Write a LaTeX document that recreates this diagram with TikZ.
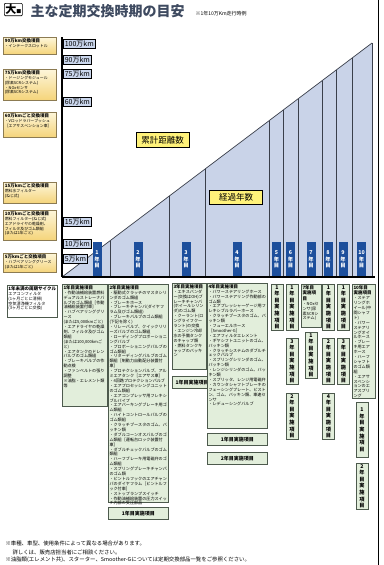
\documentclass[tikz,border=0pt]{standalone}
\usepackage{fontspec}
\setmainfont{Noto Sans CJK JP}
\XeTeXlinebreaklocale "ja"
\XeTeXlinebreakskip=0pt plus 1pt
\usetikzlibrary{positioning}
\definecolor{barblue}{HTML}{1D4F9C}
\definecolor{trifill}{HTML}{C9D3E8}
\definecolor{kmblue}{HTML}{CAD6EC}
\definecolor{labelyellow}{HTML}{FFF27A}
\definecolor{notetop}{HTML}{FDF6DA}
\definecolor{notebot}{HTML}{F5D47A}
\definecolor{noteline}{HTML}{8C7B52}
\definecolor{boxgreen}{HTML}{E2EEDB}
\definecolor{boxline}{HTML}{4D5A4D}
\definecolor{titlegray}{HTML}{3E4A60}
\definecolor{divgray}{HTML}{3A3F4A}
\newcommand{\midashi}[1]{{\bfseries\fontsize{4.5}{5.5}\selectfont #1\par}}
\newcommand{\naiyou}[3]{\parbox[t][#1][t]{#2}{\raggedright #3}}

\begin{document}
\begin{tikzpicture}[x=1pt,y=-1pt,
  kmlabel/.style={draw=black,line width=0.6pt,fill=kmblue,anchor=west,inner sep=1.5pt,minimum height=8.5pt,font=\fontsize{7}{7}\selectfont},
  note/.style={draw=noteline,line width=0.6pt,top color=notetop,bottom color=notebot,anchor=north west,inner sep=1.5pt,font=\fontsize{3.9}{4.8}\selectfont},
  item/.style={draw=boxline,line width=0.6pt,fill=boxgreen,anchor=north west,inner sep=1.2pt,font=\fontsize{4.1}{4.9}\selectfont},
  tatebox/.style={draw=boxline,line width=0.6pt,fill=boxgreen,anchor=north,minimum width=12pt,inner sep=1pt,align=center,font=\bfseries\fontsize{5.2}{6.6}\selectfont},
  yokobox/.style={draw=boxline,line width=0.6pt,fill=boxgreen,anchor=north west,minimum height=12pt,font=\bfseries\fontsize{5}{5}\selectfont},
  yearbar/.style={fill=barblue,text=white,anchor=south,minimum width=9pt,minimum height=35pt,inner sep=0pt,align=center,font=\bfseries\fontsize{5.3}{6.8}\selectfont},
  keyword/.style={draw=black,line width=0.6pt,fill=labelyellow,minimum width=53pt,minimum height=14pt,font=\fontsize{8.5}{8.5}\selectfont},
  divline/.style={draw=divgray,line width=0.6pt}]
\fill[white] (0,0) rectangle (383,565);
\useasboundingbox (0,0) rectangle (383,565);
\draw[line width=0.8pt] (378,0) -- (378,565);

\node[draw,rounded corners=1pt,line width=0.7pt,inner sep=1pt,anchor=north west,font=\bfseries\fontsize{11}{11}\selectfont] (dai) at (4,3) {大{\fontsize{5}{5}\selectfont■}};
\node[anchor=west,font=\bfseries\fontsize{14}{14}\selectfont,text=titlegray] (title) at (27,11) {主な定期交換時期の目安};
\node[anchor=base west,font=\fontsize{5}{5}\selectfont] (rei) at (192,15) {※1年10万Km走行時例};

\coordinate (o) at (62,277);
\coordinate (top) at (372,43);
\coordinate (br) at (372,277);
\fill[trifill] (o) -- (top) -- (br) -- cycle;
\foreach \x in {110,169,205,269,283,298,322,336,352}
  \draw[divline] (\x,277) -- (\x,{277-0.7548*(\x-62)});
\draw[divline] (br) -- (top);
\draw[divgray,line width=0.7pt] (o) -- (top);

\foreach \cx/\n [count=\i] in {97/1,138/2,186/3,237/4,276.5/5,290.5/6,311/7,328/8,343/9,361.5/10}
  \node[yearbar] (bar\i) at (\cx,277) {\n\\年\\目};

\draw[line width=1.2pt] (62,37) -- (o);
\draw[line width=1.5pt] (o) -- (375,277);

\node[kmlabel] (km100) at (63,43.5) {100万km};
\node[kmlabel] (km90) at (63,59.5) {90万km};
\node[kmlabel] (km75) at (63,73.5) {75万km};
\node[kmlabel] (km60) at (63,102) {60万km};
\node[kmlabel] (km15) at (63,222) {15万km};
\node[kmlabel] (km10) at (63,244) {10万km};
\node[kmlabel] (km5) at (63,259) {5万km};

\node[keyword] (ruikei) at (162.5,140) {累計距離数};
\node[keyword] (keika) at (236,197.5) {経過年数};

\node[note] (n90) at (3,37) {\naiyou{14pt}{50pt}{\midashi{90万km交換項目}・インテークスロットル}};
\node[note] (n75) at (3,69) {\naiyou{28pt}{50pt}{\midashi{75万km交換項目}・ドージングモジュール\par(尿素SCRシステム)\par・NOxセンサ\par(尿素SCRシステム)}};
\node[note] (n60) at (3,112) {\naiyou{22pt}{50pt}{\midashi{60万kmごと交換項目}・Vロッドラバーブッシュ\par［エアサスペンション車］}};
\node[note] (n15) at (3,182) {\naiyou{18pt}{50pt}{\midashi{15万kmごと交換項目}燃料水フィルター\par(ねじ式)}};
\node[note] (n10) at (3,210) {\naiyou{27pt}{50pt}{\midashi{10万kmごと交換項目}燃料フィルター(ねじ式)\par エアドライヤの乾燥剤、\par フィルタ及びゴム類組\par(または1年ごと)}};
\node[note] (n5) at (3,253) {\naiyou{16pt}{50pt}{\midashi{5万kmごと交換項目}・ハブベアリンググリース\par(または1年ごと)}};

\node[item,fill=white] (miman) at (7,285) {\naiyou{30pt}{48pt}{\midashi{1年未満の周期サイクル}エアコンフィルタ\par(1ヶ月ごとに清掃)\par 空気清浄機フィルタ\par(3ヶ月ごとに交換)}};

\node[item] (nen1) at (62,284) {\naiyou{120pt}{43pt}{\midashi{1年目実施項目}・作動油補給装置燃料デュアルストレーナバルブのゴム類組［作動油補給装置付車］\par・ハブベアリンググリース\par(または5,000kmごと)\par・エアドライヤの乾燥剤、フィルタ及びゴム類組\par(または100,000kmごと)\par・エアタンクのドレンバルブのゴム類組\par・ブレーキバルブの作動点検\par・ファンベルトの張り調整\par※油脂・エレメント類等}};

\node[item] (nen2) at (108,284) {\naiyou{216pt}{57.5pt}{\midashi{2年目実施項目}・駆動式クラッチのマスタシリンダのゴム類組\par・ブレーキホース\par・ブレーキチャンバ(ダイヤフラム及びゴム類組)\par・ブレーキバルブのゴム類組(下記を除く)\par・リレーバルブ、クイックリリーズバルブのゴム類組\par・ローディングプロポーショニングバルブ\par・プロポーショニングバルブのゴム類組\par・リターディングバルブのゴム類組［制動力自動配分装置付車］\par・プロテクションバルブ、アルミエアタンク［エアサス車］\par・4回路プロテクションバルブ\par・エアプロセッシングユニットのゴム類組\par・エアコンプレッサ用フレキシブルパイプ\par・エアパーキングブレーキ用ゴム類組\par・ハイトコントロールバルブのゴム類組\par・クラッチブースタのゴム、パッキン類\par・ダブルコーンオスバルブのゴム類組［運転台ロック装置付車］\par・ダブルチェックバルブのゴム類組\par・ハーフブレーキ用電磁弁のゴム類組\par・スプリングブレーキチャンバのゴム類\par・ピントルフックのエアチャンバのダイヤフラム［ピントルフック付車］\par・ストップランプスイッチ\par・作動油補給装置の圧力スイッチ内部の受圧部品}};
\node[yokobox,minimum width=60pt] (nen2a) at (108,507) {1年目実施項目};

\node[item] (nen3) at (172,283) {\naiyou{84pt}{31.5pt}{\midashi{3年目実施項目}・エキスパンダー(交換はOH)ブレーキチャンバ(ホイールシリンダ)のゴム類\par・クーラント(ロングライフクーラント)の交換\par・エンジン冷却水の予備タンクのキャップ類\par・燃料タンクキャップのパッキン}};
\node[yokobox,minimum width=34pt] (nen3a) at (172,376) {1年目実施項目};

\node[item] (nen4) at (207,283) {\naiyou{143pt}{57.5pt}{\midashi{4年目実施項目}・パワーステアリングホース\par・パワーステアリング作動部のゴム類\par・エアプレッシャーゲージ用フレキシブルラバーホース\par・クラッチブースタのゴム、パッキン類\par・フューエルホース\par［Smoother-G］\par・エアフィルタエレメント\par・ギヤシフトユニットのゴム、パッキン類\par・クラッチシステムのダブルチェックバルブ\par・スプリングシリンダのゴム、パッキン類\par・レンジシリンダのゴム、パッキン類\par・スプリッタ、レンジ用電磁弁\par・カウンタシャフトブレーキのフェーシングプレート、ピストン、ゴム、パッキン類、車速センサ\par・レデューシングバルブ}};
\node[yokobox,minimum width=60pt] (nen4a) at (207,433) {1年目実施項目};
\node[yokobox,minimum width=60pt] (nen4b) at (207,452) {2年目実施項目};

\node[tatebox] (c5a) at (277,284) {1\\年\\目\\実\\施\\項\\目};
\node[tatebox] (c6a) at (292,284) {1\\年\\目\\実\\施\\項\\目};
\node[tatebox] (c6b) at (292,338) {3\\年\\目\\実\\施\\項\\目};
\node[tatebox] (c6c) at (292,393) {2\\年\\目\\実\\施\\項\\目};
\node[item] (nen7) at (301,284) {\naiyou{41pt}{17.5pt}{\midashi{7年目\par 実施項目}・NOxセンサ(尿素SCRシステム)}};
\node[tatebox] (c7a) at (311,332) {1\\年\\目\\実\\施\\項\\目};
\node[tatebox] (c8a) at (328.5,284) {1\\年\\目\\実\\施\\項\\目};
\node[tatebox] (c8b) at (328.5,338) {2\\年\\目\\実\\施\\項\\目};
\node[tatebox] (c8c) at (328.5,393) {4\\年\\目\\実\\施\\項\\目};
\node[tatebox] (c9a) at (343.5,284) {1\\年\\目\\実\\施\\項\\目};
\node[tatebox] (c9b) at (343.5,338) {3\\年\\目\\実\\施\\項\\目};
\node[item] (nen10) at (352,284) {\naiyou{112pt}{20.5pt}{\midashi{10年目\par 実施項目}・ステアリングホイール(中間シャフト)\par・パワーステアリングオイルホース\par・ブレーキ用エアホース\par・ハーフシャフトのゴム類組\par・エアサスペンションのエアスプリング}};
\node[tatebox,minimum height=55pt] (c10a) at (362,402) {1\\年\\目\\実\\施\\項\\目};
\node[tatebox,minimum height=44pt] (c10b) at (362,463) {2\\年\\目\\実\\施\\項\\目};

\node[anchor=west,font=\fontsize{5.4}{5.4}\selectfont] (chu1) at (2,543) {※車種、車型、使用条件によって異なる場合があります。};
\node[anchor=west,font=\fontsize{5.4}{5.4}\selectfont] (chu2) at (9,552) {詳しくは、販売店担当者にご相談ください。};
\node[anchor=west,font=\fontsize{5.4}{5.4}\selectfont] (chu3) at (2,560) {※油脂類(エレメント共)、スターター、Smoother-Gについては定期交換部品一覧をご参照ください。};
\end{tikzpicture}
\end{document}
